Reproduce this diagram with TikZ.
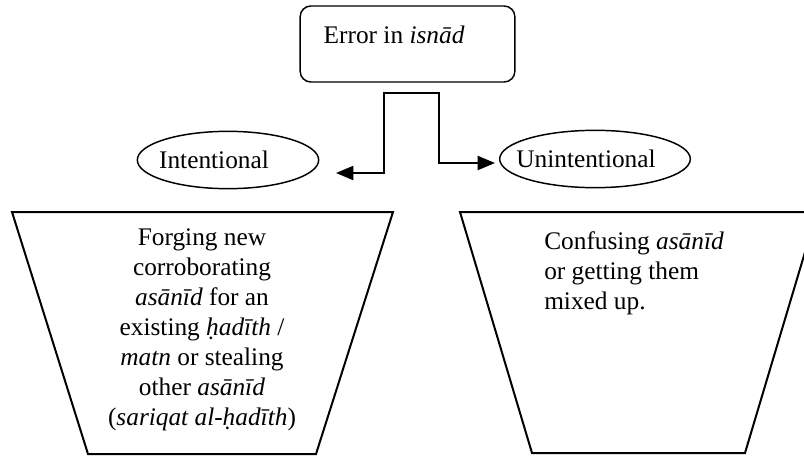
\documentclass[tikz,border=0pt]{standalone}
\usepackage{fontspec}
\setmainfont{Liberation Serif}
\usetikzlibrary{shapes.geometric,positioning,calc,arrows.meta}

\tikzset{
    textStyle/.style = {font = \fontsize{19}{22.6}\selectfont, inner sep = 0pt},
    ovalStyle/.style = {ellipse, draw, line width = 1.1pt},
}

\begin{document}
\begin{tikzpicture}[x = 0.75pt, y = -0.75pt]

        \def\lineW{1.1pt}
        \def\tipLen{13pt}
        \def\tipWid{10.5pt}

        \useasboundingbox (0, 0) rectangle (804, 457);

        % draw top box
        \node[draw, line width = \lineW, rounded corners = 8pt, minimum width = 161pt, minimum height = 57pt] (E) at (407.5, 44) {};
        \node[textStyle, anchor = base west] (Etext) at ($(E.north west) + (24, 38)$) {Error in \textit{isnād}};

        % draw both ellipses
        \node[ovalStyle, minimum width = 136pt, minimum height = 43pt] (I) at (228, 160) {};
        \node[ovalStyle, minimum width = 143pt, minimum height = 43pt] (U) at (595, 159) {};
        \node[textStyle] (Itext) at ($(I) + (-14, 0)$) {Intentional};
        \node[textStyle] (Utext) at ($(U) + (-9, 0)$) {Unintentional};

        % draw elbow connector
        \coordinate (A1) at (336, 173);
        \coordinate (A2) at (384, 93);
        \coordinate (A3) at (439, 93);
        \coordinate (A4) at (495, 163);
        \draw[line width = 1.6pt, {Triangle[length = \tipLen, width = \tipWid]}-{Triangle[length = \tipLen, width = \tipWid]}] (A1) -| (A2) -- (A3) |- (A4);

        % draw left trapezoid
        \coordinate (L1) at ( 12, 212);
        \coordinate (L2) at (393, 212);
        \coordinate (L3) at (316, 454);
        \coordinate (L4) at ( 88, 454);
        \draw[line width = 1.5pt] (L1) -- (L2) -- (L3) -- (L4) -- cycle;
        \node[textStyle, align = center, anchor = north] (Ltext) at (202, 228) {Forging new\\ corroborating\\ \textit{asānīd} for an\\ existing \textit{ḥadīth} /\\ \textit{matn} or stealing\\ other \textit{asānīd}\\ (\textit{sariqat al-ḥadīth})};

        % draw right trapezoid
        \coordinate (R1) at (460, 212);
        \coordinate (R2) at (817, 212);
        \coordinate (R3) at (745, 453);
        \coordinate (R4) at (532, 453);
        \draw[line width = 1.5pt] (R1) -- (R2) -- (R3) -- (R4) -- cycle;
        \node[textStyle, align = left, anchor = north west] (Rtext) at (544, 231) {Confusing \textit{asānīd}\\ or getting them\\ mixed up.};

\end{tikzpicture}
\end{document}
